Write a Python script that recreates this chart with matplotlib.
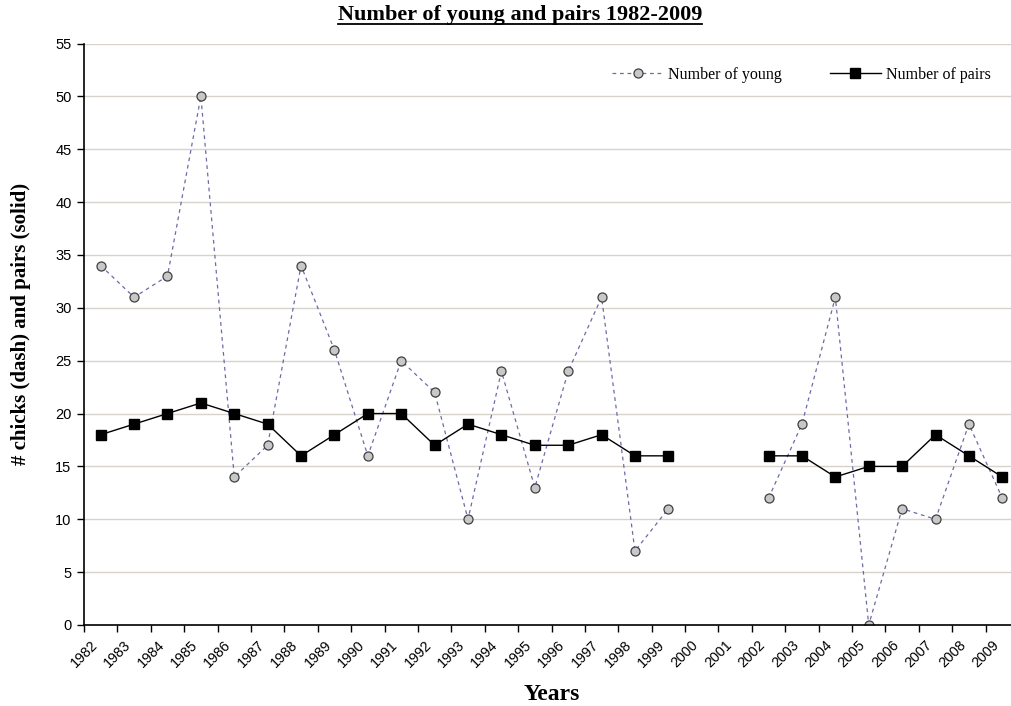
import numpy as np
import matplotlib
matplotlib.use("Agg")
import matplotlib.pyplot as plt
from matplotlib.lines import Line2D

years = [str(y) for y in range(1982, 2010)]
young = [34, 31, 33, 50, 14, 17, 34, 26, 16, 25, 22, 10, 24, 13, 24, 31, 7, 11,
         np.nan, np.nan, 12, 19, 31, 0, 11, 10, 19, 12]
pairs = [18, 19, 20, 21, 20, 19, 16, 18, 20, 20, 17, 19, 18, 17, 17, 18, 16, 16,
         np.nan, np.nan, 16, 16, 14, 15, 15, 18, 16, 14]
yticks = list(range(0, 56, 5))

W, H = 1012, 706
fig = plt.figure(figsize=(W / 100, H / 100), dpi=100)
left, right, top, bottom = 84, 1019, 43.5, 625
ax = fig.add_axes([left / W, 1 - bottom / H, (right - left) / W, (bottom - top) / H])

x = np.arange(len(years))
ax.plot(x, young, linestyle=(0, (3, 3)), color="#6b6ba8", linewidth=0.9,
        marker="o", markersize=6.5, markerfacecolor="#c8c8c8",
        markeredgecolor="#404040", markeredgewidth=0.9, label="Number of young")
ax.plot(x, pairs, linestyle="-", color="black", linewidth=1.0,
        marker="s", markersize=6.5, markerfacecolor="black",
        markeredgecolor="black", label="Number of pairs")

ax.set_xlim(-0.5, len(years) - 0.5)
ax.set_ylim(0, 55)
ax.set_yticks(yticks)
ax.set_yticklabels([str(v) for v in yticks], fontfamily="Liberation Sans", fontsize=10.5)
ax.yaxis.grid(True, color="#d8d2cc", linewidth=1.0)
ax.set_axisbelow(True)

ax.set_xticks(x - 0.5)
ax.set_xticklabels(years, rotation=45, ha="center", va="top",
                   fontfamily="Liberation Sans", fontsize=10.3)
ax.tick_params(axis="x", length=5, width=1, direction="out", pad=4)
ax.tick_params(axis="y", length=5, width=1, direction="out", pad=4)

for s in ["top", "right"]:
    ax.spines[s].set_visible(False)
for s in ["left", "bottom"]:
    ax.spines[s].set_linewidth(1.2)

ax.set_xlabel("Years", fontfamily="Liberation Serif", fontweight="bold", fontsize=17, labelpad=10)
ax.set_ylabel("# chicks (dash) and pairs (solid)", fontfamily="Liberation Serif",
              fontweight="bold", fontsize=15)
ax.yaxis.set_label_coords(-0.057, 0.518)

leg = ax.legend(loc="upper right", bbox_to_anchor=(0.985, 0.985), ncol=2, frameon=False,
                prop={"family": "Liberation Serif", "size": 11.5}, handlelength=3.2,
                handletextpad=0.3, columnspacing=3.0, markerscale=1.0)

t = fig.text(520 / W, 1 - 15 / H, "Number of young and pairs 1982-2009",
             ha="center", va="center", fontfamily="Liberation Serif",
             fontweight="bold", fontsize=16)
fig.canvas.draw()
bb = t.get_window_extent()
fig.add_artist(Line2D([bb.x0 / W, bb.x1 / W], [bb.y0 / H + 0.002, bb.y0 / H + 0.002],
                      transform=fig.transFigure, color="black", linewidth=1.3))

fig.savefig("out.png", dpi=100)
